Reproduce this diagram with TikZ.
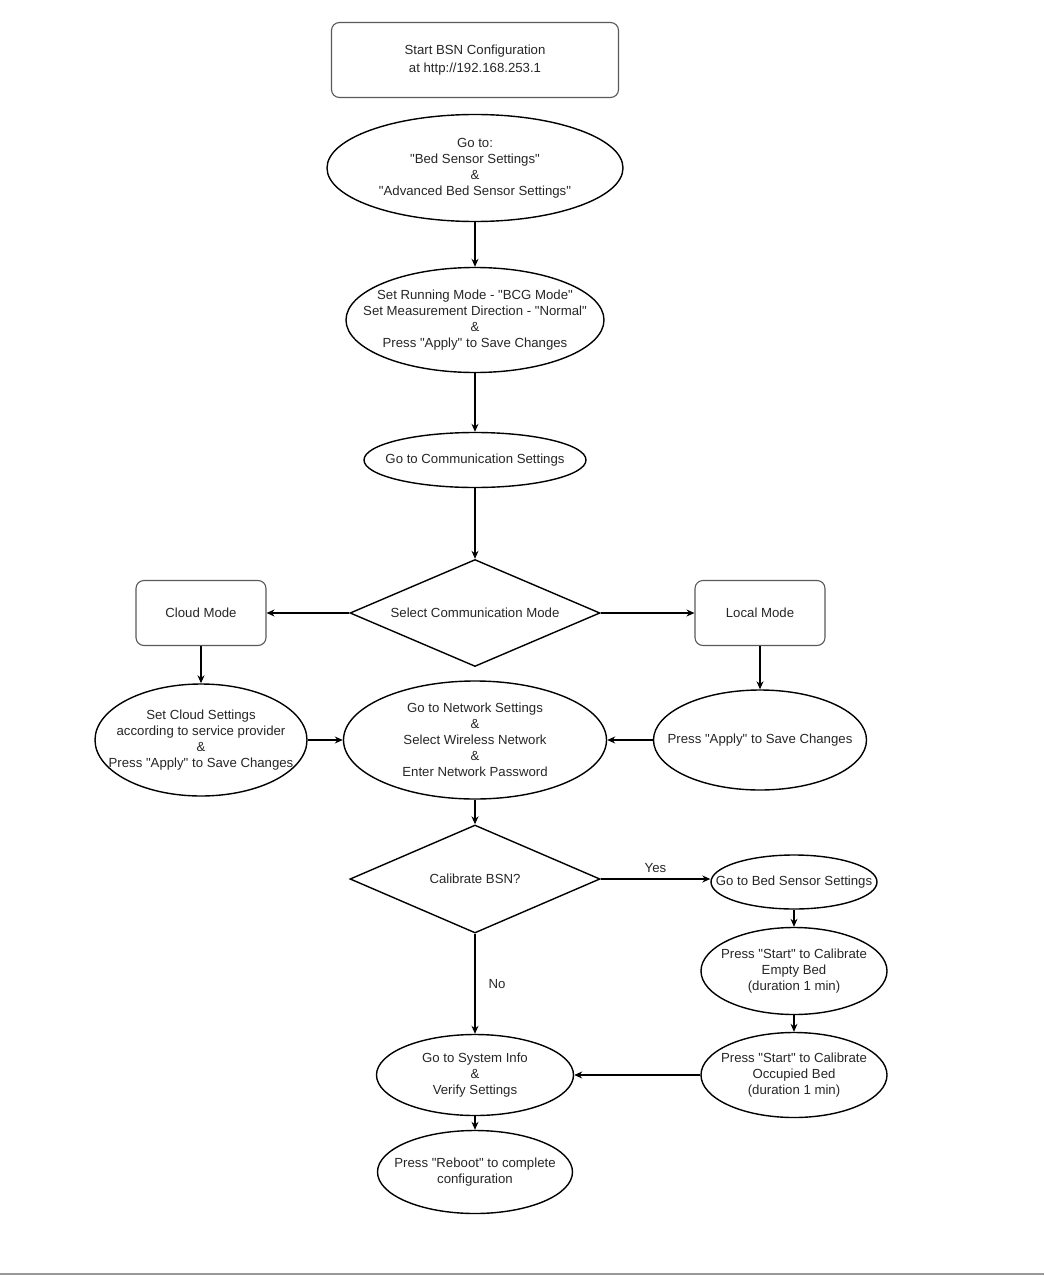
\documentclass[tikz,border=0pt]{standalone}
\usepackage{fontspec}
\setmainfont{Liberation Sans}[Ligatures=TeXOff]
\usetikzlibrary{shapes.geometric,arrows.meta}
\begin{document}
\begin{tikzpicture}[x=1pt,y=-1pt,
    every node/.style={font=\fontsize{13.2}{16}\selectfont,text=black!85,align=center,inner sep=0pt},
    oval/.style={draw,ellipse,line width=1.4pt},
    rbox/.style={draw=black!65,rounded corners=8pt,line width=1.1pt},
    choice/.style={draw,diamond,line width=1.4pt},
    arr/.style={-{Stealth[length=8pt,width=7pt]},line width=1.2pt}]
    \useasboundingbox (0,0) rectangle (1044,1276);
    % main column
    \node[rbox,minimum width=287pt,minimum height=75pt,font=\fontsize{13.2}{18}\selectfont] (start) at (475,60) {Start BSN Configuration\\at http://192.168.253.1};
    \node[oval,minimum width=296pt,minimum height=107pt,label={center:{Go to:\\"Bed Sensor Settings"\\\&\\"Advanced Bed Sensor Settings"}}] (goto) at (475,168) {};
    \node[oval,minimum width=258pt,minimum height=105pt,label={center:{Set Running Mode - "BCG Mode"\\Set Measurement Direction - "Normal"\\\&\\Press "Apply" to Save Changes}}] (mode) at (475,320) {};
    \node[oval,minimum width=222pt,minimum height=55pt,label={center:Go to Communication Settings}] (comm) at (475,460) {};
    \node[choice,minimum width=250pt,minimum height=107pt,label={center:Select Communication Mode}] (select) at (475,613) {};
    % the two modes
    \node[rbox,minimum width=130pt,minimum height=65pt] (cloud) at (201,613) {Cloud Mode};
    \node[rbox,minimum width=130pt,minimum height=65pt] (local) at (760,613) {Local Mode};
    \node[oval,minimum width=212pt,minimum height=112pt,label={center:{Set Cloud Settings\\according to service provider\\\&\\Press "Apply" to Save Changes}}] (cloudset) at (201,740) {};
    \node[oval,minimum width=213pt,minimum height=100pt,label={center:Press "Apply" to Save Changes}] (apply) at (760,740) {};
    \node[oval,minimum width=263pt,minimum height=118pt,label={center:{Go to Network Settings\\\&\\Select Wireless Network\\\&\\Enter Network Password}}] (network) at (475,740) {};
    % calibration
    \node[choice,minimum width=250pt,minimum height=108pt,label={center:Calibrate BSN?}] (calib) at (475,879) {};
    \node[oval,minimum width=166pt,minimum height=54pt,label={center:Go to Bed Sensor Settings}] (bed) at (794,882) {};
    \node[oval,minimum width=186pt,minimum height=87pt,label={center:{Press "Start" to Calibrate\\Empty Bed\\(duration 1 min)}}] (empty) at (794,971) {};
    \node[oval,minimum width=186pt,minimum height=85pt,label={center:{Press "Start" to Calibrate\\Occupied Bed\\(duration 1 min)}}] (occupied) at (794,1075) {};
    \node[oval,minimum width=197pt,minimum height=81pt,label={center:{Go to System Info\\\&\\Verify Settings}}] (sysinfo) at (475,1075) {};
    \node[oval,minimum width=195pt,minimum height=83pt,label={center:{Press "Reboot" to complete\\configuration}}] (reboot) at (475,1172) {};
    % connectors
    \draw[arr] (goto) -- (mode);
    \draw[arr] (mode) -- (comm);
    \draw[arr] (comm) -- (select);
    \draw[arr] (select.west) -- (cloud.east);
    \draw[arr] (select.east) -- (local.west);
    \draw[arr] (cloud) -- (cloudset);
    \draw[arr] (local) -- (apply);
    \draw[arr] (cloudset.east) -- (network.west);
    \draw[arr] (apply.west) -- (network.east);
    \draw[arr] (network) -- (calib);
    \draw[arr] (calib.east) -- (calib.east -| bed.west) node[midway,above=6pt] (yes) {Yes};
    \draw[arr] (calib.south) -- (sysinfo.north) node[midway,right=13pt] (no) {No};
    \draw[arr] (bed) -- (empty);
    \draw[arr] (empty) -- (occupied);
    \draw[arr] (occupied.west) -- (sysinfo.east);
    \draw[arr] (sysinfo) -- (reboot);
    \draw[black!40,line width=2pt] (0,1274) -- (1044,1274);
\end{tikzpicture}
\end{document}
